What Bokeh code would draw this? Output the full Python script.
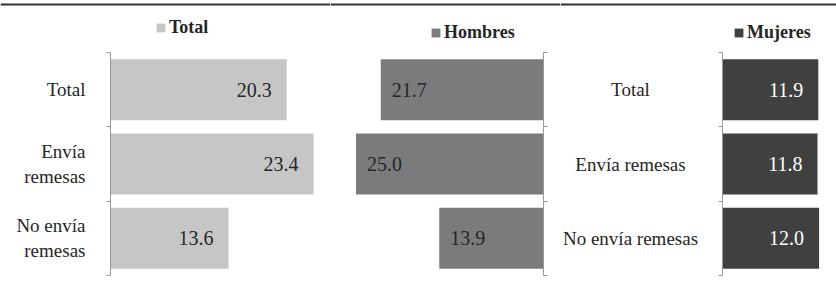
from bokeh.plotting import figure
from bokeh.models import Range1d, FixedTicker, ColumnDataSource, LabelSet
from bokeh.layouts import row
from bokeh.embed import file_html
from bokeh.resources import INLINE

# ---- data ----
categories = ["Total", "Envía remesas", "No envía remesas"]
wrapped_labels = ["Total", "Envía\nremesas", "No envía\nremesas"]
series_names = ["Total", "Hombres", "Mujeres"]
total_vals = [20.3, 23.4, 13.6]
hombres_vals = [21.7, 25.0, 13.9]
mujeres_vals = [11.9, 11.8, 12.0]

FONT = "Liberation Serif"
TEXT = "#262626"
AXIS = "#999999"
n = len(categories)
centers = [n - i - 0.5 for i in range(n)]
bounds = list(range(n + 1))

# ---- vertical layout (pixels) ----
H = 280            # figure height
AX_TOP = 52        # pixel row of the first category boundary
AX_BOT = 275       # pixel row of the last category boundary
RULE_Y = 3.5       # pixel row of the top rule
PPU_Y = (AX_BOT - AX_TOP) / n
Y_RANGE = (-(H - AX_BOT) / PPU_Y, n + AX_TOP / PPU_Y)
RULE_DATA = n + (AX_TOP - RULE_Y) / PPU_Y


def make_panel(vals, name, color, width, axis_px, ppu, reverse, vcolor, valign, voff, leg_xy):
    if reverse:
        xr = Range1d(axis_px / ppu, -(width - axis_px) / ppu)
    else:
        xr = Range1d(-axis_px / ppu, (width - axis_px) / ppu)
    p = figure(width=width, height=H, x_range=xr, y_range=Range1d(*Y_RANGE),
               x_axis_location=None, y_axis_location="left",
               output_backend="svg", toolbar_location=None,
               min_border=0)
    p.outline_line_color = None
    p.grid.visible = False
    src = ColumnDataSource(dict(y=centers, v=vals, t=[f"{v:.1f}" for v in vals]))
    p.hbar(y="y", left=0, right="v", height=0.82, source=src,
           fill_color=color, line_color=None, legend_label=name)
    p.add_layout(LabelSet(x="v", y="y", text="t", source=src, x_offset=voff,
                          text_align=valign, text_baseline="middle",
                          text_font=FONT, text_font_size="20px", text_color=vcolor))
    # top rule across the whole frame
    p.hspan(y=[RULE_DATA], line_color="#333333", line_width=2)
    ax = p.yaxis[0]
    ax.fixed_location = 0
    ax.bounds = (0, n)
    ax.ticker = FixedTicker(ticks=centers, minor_ticks=bounds)
    ax.major_tick_out = 0
    ax.major_tick_in = 0
    ax.minor_tick_out = 4
    ax.minor_tick_in = 0
    ax.axis_line_color = AXIS
    ax.minor_tick_line_color = AXIS
    ax.major_label_text_font = FONT
    ax.major_label_text_font_size = "19px"
    ax.major_label_text_color = TEXT
    lg = p.legend[0]
    lg.location = leg_xy
    lg.padding = 0
    lg.margin = 0
    lg.border_line_color = None
    lg.background_fill_alpha = 0
    lg.glyph_width = 11
    lg.glyph_height = 11
    lg.label_standoff = 3
    lg.label_text_font = FONT
    lg.label_text_font_style = "bold"
    lg.label_text_font_size = "18px"
    lg.label_text_color = TEXT
    return p, ax


# Panel 1: Total (bars to the right, wrapped category labels on the axis)
p1, ax1 = make_panel(total_vals, series_names[0], "#c6c6c6", 330, 110, 8.68, False,
                     TEXT, "right", -15, (155, H - 38))
ax1.major_label_overrides = {c: lab for c, lab in zip(centers, wrapped_labels)}
ax1.major_label_standoff = 21

# Panel 2: Hombres (bars to the left, axis on the right side of the bars)
p2, ax2 = make_panel(hombres_vals, series_names[1], "#7b7b7d", 230, 213, 7.5, True,
                     TEXT, "left", 11, (100, H - 43))
ax2.major_label_overrides = {c: "" for c in centers}
ax2.major_label_text_font_size = "0px"
ax2.minor_tick_out = 0
ax2.minor_tick_in = 4

# Panel 3: Mujeres (centered category labels left of the axis)
S3 = 8.05
p3, ax3 = make_panel(mujeres_vals, series_names[2], "#404040", 276, 162, S3, False,
                     "white", "right", -15, (173, H - 43))
ax3.major_label_overrides = {c: "" for c in centers}
ax3.major_label_text_font_size = "0px"
lab_src = ColumnDataSource(dict(y=centers, t=categories, x=[-92 / S3] * n))
p3.text(x="x", y="y", text="t", source=lab_src, text_align="center",
        text_baseline="middle", text_font={"value": FONT}, text_font_size="19px",
        text_color=TEXT)

layout = row(p1, p2, p3, spacing=0)

open("out.html", "w").write(file_html(layout, INLINE))
